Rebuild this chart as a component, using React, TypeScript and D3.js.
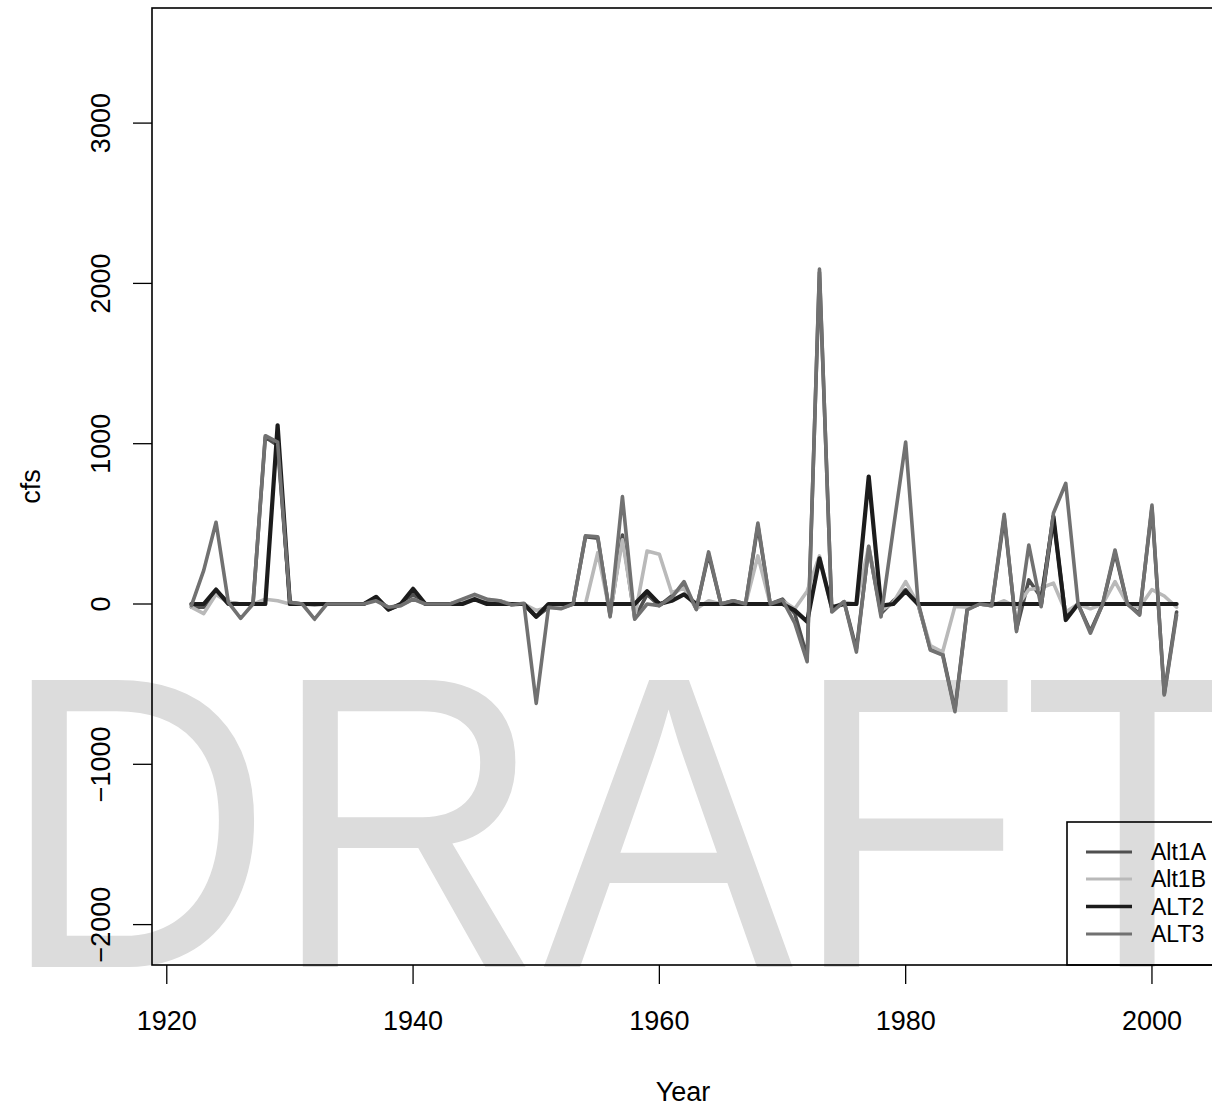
import React from "react";
import * as d3 from "d3";

// Water years plotted along the x axis
const years: number[] = d3.range(1922, 2003);

// Flow differences (cfs) for each alternative, 1922–2002
const alt1A: number[] = [
  -20, -20, 85, 10, 0, 0, 1040, 990, 10, 0,
  -5, 0, 0, 0, 0, 40, -35, -5, 60, 0,
  0, 0, 20, 50, 20, 20, -5, 0, -80, -20,
  -25, 0, 420, 410, -70, 430, -90, 60, -10, 50,
  120, -30, 310, 0, 20, 0, 490, 0, 30, -60,
  -330, 2070, -40, 15, -280, 350, -60, 20, 90, 0,
  -280, -310, -660, -30, 0, -10, 540, -160, 150, 40,
  530, -80, 0, -170, 0, 320, 0, -60, 600, -560,
  -50,
];

const alt1B: number[] = [
  -20, -60, 60, 10, 0, 0, 30, 20, 0, 0,
  0, 0, 0, 0, 0, 30, -20, -10, 30, 0,
  0, 0, 20, 40, 30, 20, 0, 0, -40, -20,
  -20, 0, 0, 320, -60, 400, -80, 330, 310, 70,
  100, -30, 20, 0, 10, 0, 300, 0, 20, -30,
  80, 300, -30, 10, 0, 360, -40, 10, 140, 0,
  -260, -300, -15, -20, 0, -10, 20, -20, 90, 100,
  130, -50, 0, -30, 0, 140, 0, -20, 90, 50,
  -20,
];

const alt2: number[] = [
  0, 0, 90, 0, 0, 0, 0, 1115, 0, 0,
  0, 0, 0, 0, 0, 45, -35, 0, 95, 0,
  0, 0, 0, 30, 0, 0, 0, 0, -80, 0,
  0, 0, 0, 0, 0, 0, 0, 80, 0, 20,
  60, 0, 0, 0, 0, 0, 0, 0, 0, -40,
  -110, 285, -20, 0, 0, 795, -10, 0, 80, 0,
  0, 0, 0, 0, 0, 0, 0, 0, 0, 0,
  545, -100, 0, 0, 0, 0, 0, 0, 0, 0,
  0,
];

const alt3: number[] = [
  -10, 210, 510, 10, -90, 0, 1050, 1010, 10, 0,
  -95, 0, 0, 0, 0, 20, -20, -10, 30, 0,
  0, 0, 30, 60, 30, 20, -5, 5, -620, -20,
  -30, 0, 425, 420, -80, 670, -95, 0, -10, 40,
  140, -35, 325, 0, 20, 0, 505, 0, 25, -120,
  -360, 2090, -50, 15, -300, 360, -80, 470, 1010, 15,
  -287, -318, -672, -37, 0, -10, 560, -172, 368, -17,
  567, 753, 0, -182, 0, 337, 0, -69, 617, -568,
  -69,
];

const seriesNames = ["Alt1A", "Alt1B", "ALT2", "ALT3"];
const seriesValues = [alt1A, alt1B, alt2, alt3];
const seriesColors = ["#4f4f4f", "#b9b9b9", "#1c1c1c", "#717171"];
const seriesWidths = [3.6, 3.6, 4.2, 3.6];

const xTicks = [1920, 1940, 1960, 1980, 2000];
const yTicks = [-2000, -1000, 0, 1000, 2000, 3000];

const W = 1212;
const H = 1107;
const plot = { left: 152, top: 8, right: 1216, bottom: 965 };
const FONT = "'Liberation Sans', Arial, Helvetica, sans-serif";

export default function App() {
  const x = d3.scaleLinear().domain([1918.8, 2005.2]).range([plot.left, plot.right]);
  const y = d3.scaleLinear().domain([-2252, 3718]).range([plot.bottom, plot.top]);

  const line = d3
    .line<number>()
    .x((_, i) => x(years[i]))
    .y((v) => y(v));

  const legendRows = [852, 879, 906.5, 934];

  return (
    <svg
      width={W}
      height={H}
      viewBox={`0 0 ${W} ${H}`}
      style={{ position: "absolute", left: 0, top: 0, background: "#fff" }}
      fontFamily={FONT}
    >
      <defs>
        <clipPath id="plotClip">
          <rect x={plot.left} y={plot.top} width={plot.right - plot.left} height={plot.bottom - plot.top} />
        </clipPath>
        <clipPath id="markClip">
          <rect x={0} y={0} width={W} height={968} />
        </clipPath>
      </defs>
      <rect x={0} y={0} width={W} height={H} fill="#fff" />

      {/* watermark */}
      <g clipPath="url(#markClip)">
        <g transform={`translate(1, 967) scale(0.9, 1)`}>
          <text x={0} y={0} fontSize={417} fill="#dcdcdc" fontFamily={FONT}>
            DRAFT
          </text>
        </g>
      </g>

      {/* series */}
      <g clipPath="url(#plotClip)">
        {seriesValues.map((vals, k) => (
          <path
            key={seriesNames[k]}
            d={line(vals) || ""}
            fill="none"
            stroke={seriesColors[k]}
            strokeWidth={seriesWidths[k]}
            strokeLinejoin="round"
            strokeLinecap="round"
          />
        ))}
      </g>

      {/* plot frame */}
      <rect
        x={plot.left}
        y={plot.top}
        width={plot.right - plot.left}
        height={plot.bottom - plot.top}
        fill="none"
        stroke="#000"
        strokeWidth={1.6}
      />

      {/* x axis */}
      {xTicks.map((t) => (
        <g key={t}>
          <line x1={x(t)} x2={x(t)} y1={plot.bottom} y2={plot.bottom + 19} stroke="#000" strokeWidth={1.3} />
          <text x={x(t)} y={1030} fontSize={27} textAnchor="middle" fill="#000">
            {t}
          </text>
        </g>
      ))}
      <text x={(plot.left + plot.right) / 2 - 1} y={1101} fontSize={27} textAnchor="middle" fill="#000">
        Year
      </text>

      {/* y axis */}
      {yTicks.map((t) => (
        <g key={t}>
          <line x1={plot.left} x2={plot.left - 19} y1={y(t)} y2={y(t)} stroke="#000" strokeWidth={1.3} />
          <text
            transform={`translate(110, ${y(t)}) rotate(-90)`}
            fontSize={27}
            textAnchor="middle"
            fill="#000"
          >
            {t < 0 ? `\u2212${Math.abs(t)}` : `${t}`}
          </text>
        </g>
      ))}
      <text
        transform={`translate(40, ${(plot.top + plot.bottom) / 2}) rotate(-90)`}
        fontSize={27}
        textAnchor="middle"
        fill="#000"
      >
        cfs
      </text>

      {/* legend */}
      <rect x={1067} y={822} width={200} height={plot.bottom - 822} fill="none" stroke="#000" strokeWidth={1.6} />
      {seriesNames.map((name, k) => (
        <g key={name}>
          <line
            x1={1086}
            x2={1132}
            y1={legendRows[k]}
            y2={legendRows[k]}
            stroke={seriesColors[k]}
            strokeWidth={seriesWidths[k] - 0.6}
          />
          <text x={1151} y={legendRows[k] + 8} fontSize={23} fill="#000">
            {name}
          </text>
        </g>
      ))}
    </svg>
  );
}
